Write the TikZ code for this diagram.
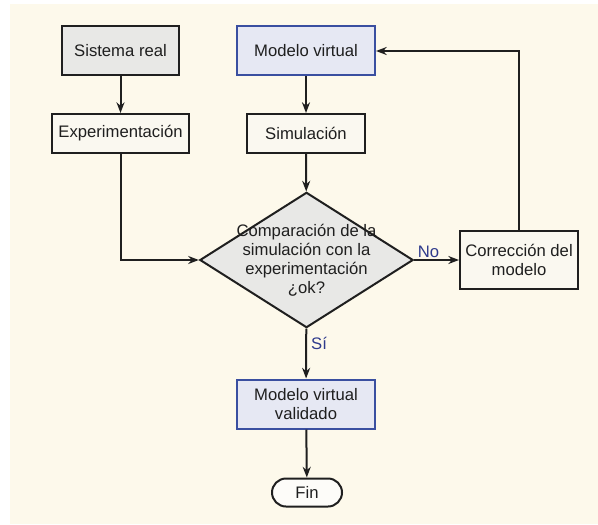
\documentclass[tikz,border=0pt]{standalone}
\usepackage{fontspec}
\setmainfont{Liberation Sans}
\usetikzlibrary{shapes.geometric,arrows.meta}
\definecolor{fondo}{HTML}{FDF9EB}
\definecolor{grisbox}{HTML}{E8E8E6}
\definecolor{clarobox}{HTML}{FAF8F0}
\definecolor{azulbox}{HTML}{E6E8F3}
\definecolor{azulborde}{HTML}{3A4FA0}
\definecolor{azultexto}{HTML}{2E3A8C}
\tikzset{
  caja/.style={draw=black!88,line width=1.5pt,fill=#1,text=black!88,
    font=\fontsize{12.5}{14.5}\selectfont,align=center,inner sep=0pt},
  cajaazul/.style={caja=azulbox,draw=azulborde},
  flecha/.style={line width=1.5pt,draw=black!88,-{Stealth[length=8pt,width=6pt]}},
  etiq/.style={text=azultexto,font=\fontsize{12.5}{14.5}\selectfont,inner sep=1pt}
}
\begin{document}
\begin{tikzpicture}[x=0.75pt,y=0.75pt,yscale=-1,xscale=1]
\useasboundingbox (0,0) rectangle (598,524);
%Shape: Rectangle (background)
\fill[fondo] (10,4) rectangle (598,524);

%Shape: Rectangle
\node[caja=grisbox,minimum width=87.75pt,minimum height=36.75pt] (sistema) at (120.5,51) {Sistema real};
%Shape: Rectangle
\node[cajaazul,minimum width=103.5pt,minimum height=36.75pt] (modelo) at (306,51) {Modelo virtual};
%Shape: Rectangle
\node[caja=clarobox,minimum width=102.75pt,minimum height=29.25pt] (exper) at (120.5,133.5) {Experimentación};
%Shape: Rectangle
\node[caja=clarobox,minimum width=88.5pt,minimum height=29.25pt] (simul) at (306,133.5) {Simulación};
%Shape: Diamond
\node[caja=grisbox,diamond,minimum width=160pt,minimum height=101.5pt,
  label={[align=center,font=\fontsize{12.5}{14.3}\selectfont,text=black!88]center:Comparación de la\\simulación con la\\experimentación\\¿ok?}] (compara) at (306.5,260) {};
%Shape: Rectangle
\node[caja=clarobox,minimum width=88.5pt,minimum height=43.5pt] (correc) at (519,260) {Corrección del\\modelo};
%Shape: Rectangle
\node[cajaazul,minimum width=103.5pt,minimum height=36.75pt] (validado) at (306,404) {Modelo virtual\\validado};
%Shape: Rounded Rectangle
\node[caja=white!60!clarobox,rounded corners=10.5pt,minimum width=52.5pt,minimum height=21pt] (fin) at (307,492.5) {Fin};

%Straight Lines
\draw[flecha] (sistema) -- (exper);
\draw[flecha] (modelo) -- (simul);
\draw[flecha] (simul) -- (compara);
\draw[flecha] (exper) |- (compara);
\draw[flecha] (compara) -- node[etiq,pos=0.32,above] {No} (correc);
\draw[flecha] (correc) |- (modelo);
\draw[flecha] (compara) -- node[etiq,pos=0.3,right,xshift=2pt] {Sí} (validado);
\draw[flecha] (validado) -- (fin);

\end{tikzpicture}
\end{document}
